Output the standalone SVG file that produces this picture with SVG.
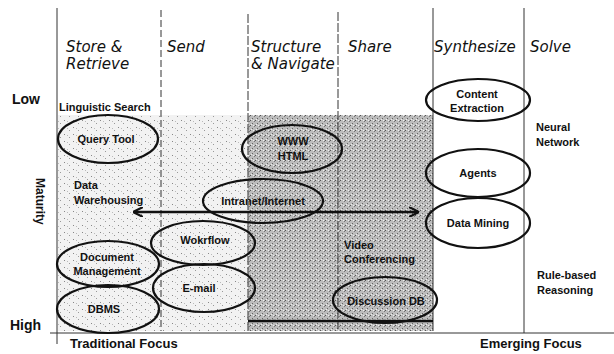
<svg xmlns="http://www.w3.org/2000/svg" width="614" height="354" viewBox="0 0 614 354">
  <style>
    .hdr { font-family: "DejaVu Sans", sans-serif; font-style: italic; font-size: 15px; fill: #111; }
    .axis { font-family: "Liberation Sans", Arial, sans-serif; font-weight: bold; fill: #111; }
    .lbl { font-family: "Liberation Sans", Arial, sans-serif; font-weight: bold; font-size: 11px; fill: #111; }
    .node ellipse { fill: none; stroke: #111; stroke-width: 2.2; }
    .node text { font-family: "Liberation Sans", Arial, sans-serif; font-weight: bold; font-size: 11px; fill: #111; text-anchor: middle; }
    .div { stroke: #333; stroke-width: 1; fill: none; }
    .conn { stroke: #111; stroke-width: 2.6; fill: none; }
  </style>
  <defs>
    <pattern id="speckle-light" width="9" height="7" patternUnits="userSpaceOnUse">
      <rect width="9" height="7" fill="#f2f2f2"/>
      <rect x="1" y="1" width="1" height="1" fill="#888"/>
      <rect x="6" y="4" width="1" height="1" fill="#999"/>
      <rect x="4" y="2" width="1" height="1" fill="#bbb"/>
    </pattern>
    <pattern id="speckle-dark" width="5" height="5" patternUnits="userSpaceOnUse">
      <rect width="5" height="5" fill="#bcbcbc"/>
      <rect x="0" y="0" width="1" height="1" fill="#555"/>
      <rect x="2" y="3" width="1" height="1" fill="#666"/>
      <rect x="4" y="1" width="1" height="1" fill="#777"/>
      <rect x="3" y="0" width="1" height="1" fill="#eee"/>
      <rect x="1" y="4" width="1" height="1" fill="#eee"/>
    </pattern>
    <marker id="arr" viewBox="0 0 10 10" refX="9" refY="5" markerWidth="4" markerHeight="4" orient="auto-start-reverse">
      <path d="M0,0 L10,5 L0,10" fill="none" stroke="#111" stroke-width="2"/>
    </marker>
  </defs>

  <rect width="614" height="354" fill="#fff"/>

  <!-- shaded maturity band -->
  <rect x="58" y="115" width="190" height="216" fill="url(#speckle-light)"/>
  <rect x="248" y="115" width="185" height="216" fill="url(#speckle-dark)"/>

  <!-- axes and column dividers -->
  <g id="grid">
    <line class="div" x1="57" y1="8" x2="57" y2="344" stroke-width="1.4"/>
    <line class="div" x1="50" y1="333" x2="614" y2="333" stroke-width="1.4"/>
    <line class="div" x1="161" y1="10" x2="161" y2="331" stroke-dasharray="7 3"/>
    <line class="div" x1="248" y1="14" x2="248" y2="331" stroke-dasharray="9 2"/>
    <line class="div" x1="338" y1="12" x2="338" y2="331" stroke-dasharray="9 2"/>
    <line class="div" x1="433" y1="8" x2="433" y2="331"/>
    <line class="div" x1="524" y1="8" x2="524" y2="333"/>
  </g>

  <!-- column headings -->
  <g id="headings">
    <text class="hdr" x="66" y="52">Store &amp;</text>
    <text class="hdr" x="66" y="69">Retrieve</text>
    <text class="hdr" x="167" y="52">Send</text>
    <text class="hdr" x="251" y="52">Structure</text>
    <text class="hdr" x="251" y="69">&amp; Navigate</text>
    <text class="hdr" x="348" y="52">Share</text>
    <text class="hdr" x="434" y="52">Synthesize</text>
    <text class="hdr" x="530" y="52">Solve</text>
  </g>

  <!-- axis labels -->
  <g id="axis-labels">
    <text class="axis" x="12" y="104" font-size="14">Low</text>
    <text class="axis" x="10" y="330" font-size="14">High</text>
    <text class="axis" font-size="12" font-weight="normal" transform="translate(36,178) rotate(90)">Maturity</text>
    <text class="axis" x="70" y="348" font-size="13">Traditional Focus</text>
    <text class="axis" x="480" y="348" font-size="13">Emerging Focus</text>
  </g>

  <!-- free labels -->
  <g id="labels">
    <text class="lbl" x="59" y="111">Linguistic  Search</text>
    <text class="lbl" x="74" y="189">Data</text>
    <text class="lbl" x="74" y="204">Warehousing</text>
    <text class="lbl" x="536" y="131">Neural</text>
    <text class="lbl" x="536" y="146">Network</text>
    <text class="lbl" x="344" y="249">Video</text>
    <text class="lbl" x="344" y="263">Conferencing</text>
    <text class="lbl" x="537" y="279">Rule-based</text>
    <text class="lbl" x="537" y="294">Reasoning</text>
  </g>

  <!-- connectors -->
  <g id="connectors">
    <line class="conn" x1="134" y1="212" x2="418" y2="212" marker-start="url(#arr)" marker-end="url(#arr)"/>
    <line class="conn" x1="248" y1="321" x2="433" y2="321"/>
  </g>

  <!-- nodes -->
  <g id="query-tool" class="node">
    <ellipse cx="108" cy="139" rx="50" ry="24"/>
    <text x="106" y="143">Query Tool</text>
  </g>
  <g id="www-html" class="node">
    <ellipse cx="292" cy="149" rx="50" ry="24"/>
    <text x="293" y="145">WWW</text>
    <text x="293" y="160">HTML</text>
  </g>
  <g id="intranet-internet" class="node">
    <ellipse cx="263" cy="201" rx="60" ry="22"/>
    <text x="263" y="205">Intranet/Internet</text>
  </g>
  <g id="content-extraction" class="node">
    <ellipse cx="478" cy="100" rx="52" ry="21"/>
    <text x="477" y="98">Content</text>
    <text x="477" y="112">Extraction</text>
  </g>
  <g id="agents" class="node">
    <ellipse cx="478" cy="173" rx="52" ry="24"/>
    <text x="478" y="177">Agents</text>
  </g>
  <g id="data-mining" class="node">
    <ellipse cx="478" cy="223" rx="52" ry="25"/>
    <text x="478" y="227">Data Mining</text>
  </g>
  <g id="workflow" class="node">
    <ellipse cx="203" cy="243" rx="52" ry="22"/>
    <text x="205" y="244">Wokrflow</text>
  </g>
  <g id="document-management" class="node">
    <ellipse cx="108" cy="264" rx="51" ry="23"/>
    <text x="107" y="261">Document</text>
    <text x="107" y="275">Management</text>
  </g>
  <g id="e-mail" class="node">
    <ellipse cx="204" cy="288" rx="51" ry="24"/>
    <text x="199" y="292">E-mail</text>
  </g>
  <g id="dbms" class="node">
    <ellipse cx="108" cy="309" rx="51" ry="24"/>
    <text x="104" y="313">DBMS</text>
  </g>
  <g id="discussion-db" class="node">
    <ellipse cx="385" cy="300" rx="52" ry="23"/>
    <text x="386" y="305">Discussion DB</text>
  </g>
</svg>
